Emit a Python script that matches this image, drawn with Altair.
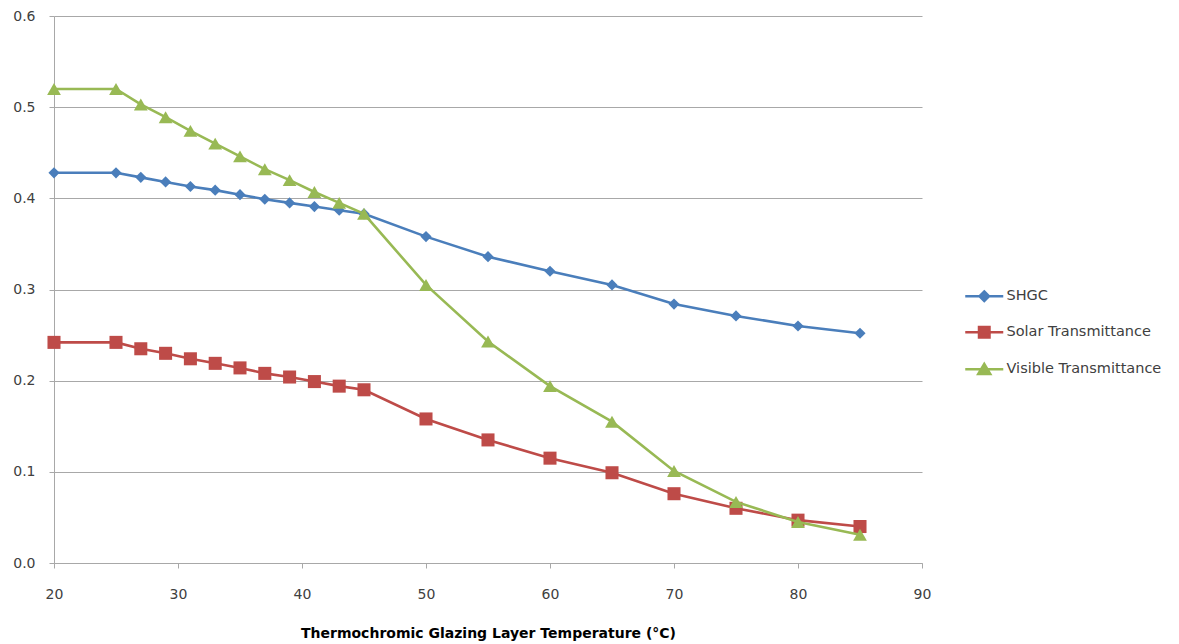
import altair as alt
import pandas as pd

temps = [20, 25, 27, 29, 31, 33, 35, 37, 39, 41, 43, 45, 50, 55, 60, 65, 70, 75, 80, 85]
shgc = [0.428, 0.428, 0.423, 0.418, 0.413, 0.409, 0.404, 0.399, 0.395, 0.391, 0.387, 0.383,
        0.358, 0.336, 0.320, 0.305, 0.284, 0.271, 0.260, 0.252]
solar = [0.242, 0.242, 0.235, 0.230, 0.224, 0.219, 0.214, 0.208, 0.204, 0.199, 0.194, 0.190,
         0.158, 0.135, 0.115, 0.099, 0.076, 0.060, 0.047, 0.040]
visible = [0.520, 0.520, 0.503, 0.489, 0.474, 0.460, 0.446, 0.432, 0.420, 0.407, 0.395, 0.383,
           0.305, 0.243, 0.194, 0.155, 0.101, 0.067, 0.045, 0.031]

series_names = ["SHGC", "Solar Transmittance", "Visible Transmittance"]
series_colors = ["#4A7EBB", "#BE4B48", "#98B954"]
series_shapes = ["diamond", "square", "triangle-up"]
series_sizes = [125, 170, 190]
legend_paths = [
    "M-3.8,0L3.8,0M0,-0.95L0.95,0L0,0.95L-0.95,0Z",
    "M-3.8,0L3.8,0M-1.05,-1.05L1.05,-1.05L1.05,1.05L-1.05,1.05Z",
    "M-3.8,0L3.8,0M0,-1.05L1.2,0.95L-1.2,0.95Z",
]
x_ticks = [20, 30, 40, 50, 60, 70, 80, 90]
y_ticks = [0.0, 0.1, 0.2, 0.3, 0.4, 0.5, 0.6]

rows = []
for name, vals in zip(series_names, [shgc, solar, visible]):
    for t, v in zip(temps, vals):
        rows.append({"series": name, "temp": t, "value": v})
df = pd.DataFrame(rows)

FONT = "DejaVu Sans"
GRAY = "#a8a8a8"

x_enc = alt.X(
    "temp:Q",
    scale=alt.Scale(domain=[20, 90], nice=False, zero=False),
    axis=alt.Axis(
        values=x_ticks, format="d", grid=False, labelFlush=False,
        domainColor=GRAY, tickColor=GRAY, tickSize=5, labelPadding=19,
        labelFont=FONT, labelFontSize=14, labelColor="#404040",
        titleFont=FONT, titleFontSize=14, titleFontWeight="bold", titleColor="#000000",
        titlePadding=25,
    ),
    title="Thermochromic Glazing Layer Temperature (°C)",
)
y_enc = alt.Y(
    "value:Q",
    scale=alt.Scale(domain=[0, 0.6], nice=False),
    axis=alt.Axis(
        values=y_ticks, format=".1f", grid=True, gridColor=GRAY, labelFlush=False,
        domainColor=GRAY, tickColor=GRAY, tickSize=5, labelPadding=14,
        labelFont=FONT, labelFontSize=14, labelColor="#404040",
    ),
    title=None,
)

base = alt.Chart(df)
layers = []
for name, col, shp, sz in zip(series_names, series_colors, series_shapes, series_sizes):
    sub = base.transform_filter(alt.datum.series == name)
    layers.append(sub.mark_line(color=col, strokeWidth=2.6).encode(x=x_enc, y=y_enc))
    layers.append(sub.mark_point(shape=shp, size=sz, filled=True, color=col, opacity=1).encode(x=x_enc, y=y_enc))

leg = alt.Legend(
    title=None, orient="none", legendX=923, legendY=273, padding=0,
    symbolSize=100, symbolStrokeWidth=2.5, symbolOpacity=1,
    labelOffset=15, labelFont=FONT, labelFontSize=14.5, labelColor="#404040",
    labelLimit=300, rowPadding=16,
)
legend_layer = base.transform_filter("datum.value < -1").mark_point(filled=True, opacity=1).encode(
    x=x_enc, y=y_enc,
    fill=alt.Fill("series:N", scale=alt.Scale(domain=series_names, range=series_colors), legend=leg),
    stroke=alt.Stroke("series:N", scale=alt.Scale(domain=series_names, range=series_colors), legend=leg),
    shape=alt.Shape("series:N", scale=alt.Scale(domain=series_names, range=legend_paths), legend=leg),
)
layers.append(legend_layer)

chart = alt.layer(*layers).properties(
    width=868, height=547,
    autosize=alt.AutoSizeParams(type="none"),
    padding={"left": 46, "top": 8, "right": 249, "bottom": 80},
    background="white",
).configure_view(stroke=None)

chart.save("out.html", embed_options={"renderer": "svg", "actions": False})
